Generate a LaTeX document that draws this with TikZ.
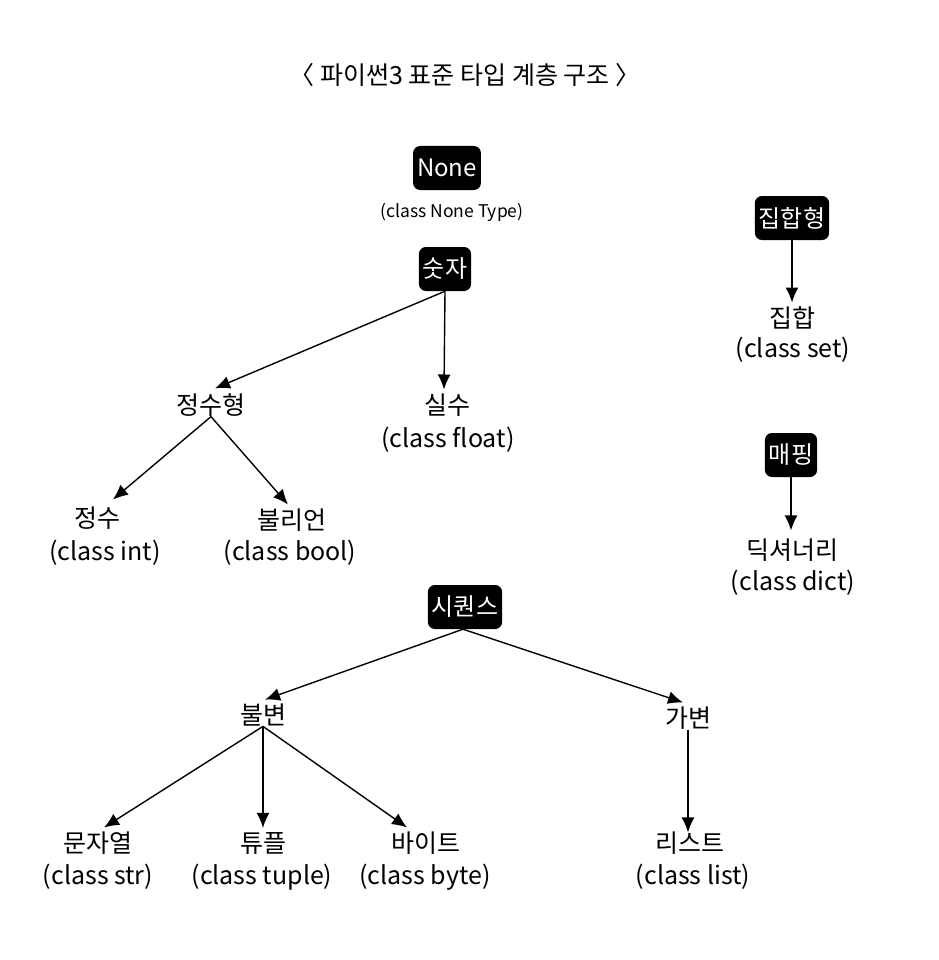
\documentclass[tikz,border=0pt]{standalone}
\usepackage{fontspec}
\setmainfont{Noto Sans CJK KR}
\usetikzlibrary{arrows.meta}
\begin{document}
\begin{tikzpicture}[x=1pt,y=-1pt,
  box/.style={fill=black, text=white, rounded corners=7pt, inner xsep=4pt, inner ysep=0pt, minimum height=44pt, font=\fontsize{24}{28}\selectfont},
  lbl/.style={font=\fontsize{25}{28}\selectfont, inner sep=2pt},
  small/.style={font=\fontsize{17.5}{20}\selectfont, inner sep=2pt},
  arr/.style={-{Latex[length=15pt,width=13pt]}, line width=1.4pt}]
\useasboundingbox (0,0) rectangle (938,960);
\node[lbl] (title) at (465,75) {〈 파이썬3 표준 타입 계층 구조 〉};
% None / numbers
\node[box] (none) at (447,168) {None};
\node[small] (nonecls) at (452,212) {(class None Type)};
\node[box] (num) at (445,269) {숫자};
\node[lbl] (intg) at (211,405) {정수형};
\node[lbl] (flt) at (447,405) {실수};
\node[lbl] (fltc) at (448,440) {(class float)};
\node[lbl] (int) at (97,518) {정수};
\node[lbl] (intc) at (105,553) {(class int)};
\node[lbl] (bool) at (292,520) {불리언};
\node[lbl] (boolc) at (290,553) {(class bool)};
\draw[arr] (num.south) -- ([xshift=4pt,yshift=3pt]intg.north);
\draw[arr] (num.south) -- ([xshift=-3pt,yshift=2pt]flt.north);
\draw[arr] ([yshift=2pt]intg.south) -- ([xshift=16pt,yshift=5pt]int.north);
\draw[arr] ([yshift=2pt]intg.south) -- ([xshift=-4pt,yshift=2pt]bool.north);
% set
\node[box] (setg) at (792,218) {집합형};
\node[lbl] (set) at (792,318) {집합};
\node[lbl] (setc) at (793,350) {(class set)};
\draw[arr] ([yshift=3pt]setg.south) -- ([yshift=2pt]setg.south |- set.north);
% mapping
\node[box] (map) at (791,455) {매핑};
\node[lbl] (dict) at (792,550) {딕셔너리};
\node[lbl] (dictc) at (793,583) {(class dict)};
\draw[arr] ([yshift=3pt]map.south) -- ([yshift=6pt]map.south |- dict.north);
% sequence
\node[box] (seq) at (465,607) {시퀀스};
\node[lbl] (imm) at (263,715) {불변};
\node[lbl] (mut) at (688,718) {가변};
\draw[arr] ([xshift=-2pt]seq.south) -- ([xshift=2pt,yshift=2pt]imm.north);
\draw[arr] ([xshift=-2pt]seq.south) -- ([xshift=-5pt,yshift=2pt]mut.north);
\node[lbl] (str) at (98,843) {문자열};
\node[lbl] (strc) at (98,877) {(class str)};
\node[lbl] (tup) at (263,843) {튜플};
\node[lbl] (tupc) at (262,877) {(class tuple)};
\node[lbl] (byte) at (426,843) {바이트};
\node[lbl] (bytec) at (425,877) {(class byte)};
\node[lbl] (lst) at (690,843) {리스트};
\node[lbl] (lstc) at (693,877) {(class list)};
\draw[arr] ([yshift=2pt]imm.south) -- ([xshift=6pt,yshift=2pt]str.north);
\draw[arr] ([yshift=2pt]imm.south) -- ([yshift=2pt]imm.south |- tup.north);
\draw[arr] ([yshift=2pt]imm.south) -- ([xshift=-19pt,yshift=2pt]byte.north);
\draw[arr] ([yshift=2pt]mut.south) -- ([yshift=-3pt]mut.south |- lst.north);
\end{tikzpicture}
\end{document}
